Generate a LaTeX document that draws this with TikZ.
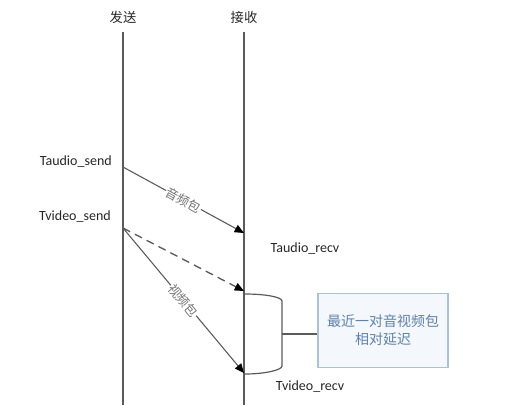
\documentclass[tikz,border=0pt]{standalone}
\usepackage{fontspec}
\setmainfont{Carlito}
\newfontfamily\cjk{Noto Sans CJK SC}
\usetikzlibrary{arrows.meta}
\definecolor{lineg}{HTML}{5A5A5A}
\definecolor{boxfill}{HTML}{F4F8FC}
\definecolor{boxdraw}{HTML}{A9C1DA}
\definecolor{boxtext}{HTML}{5F82A8}
\tikzset{
  lifeline/.style={draw=lineg, line width=0.9pt},
  msg/.style={draw=lineg, line width=0.8pt, -{Triangle[length=7pt,width=6pt,color=black]}},
  msglabel/.style={font=\cjk\fontsize{9.5}{10}\selectfont, text=black!55, fill=white, inner sep=0.5pt, sloped},
  tlabel/.style={font=\fontsize{10.5}{12}\selectfont, text=black!85, inner sep=0pt},
  header/.style={font=\cjk\fontsize{10}{11}\selectfont, text=black!85, inner sep=0pt},
  notebox/.style={draw=boxdraw, fill=boxfill, line width=0.8pt, minimum width=97.5pt, minimum height=56pt, align=center, text=boxtext, font=\cjk\fontsize{10.5}{13.5}\selectfont},
}
\begin{document}
\begin{tikzpicture}[x=0.75pt,y=-0.75pt]
\useasboundingbox (0,0) rectangle (511,405);
% headers
\node[header] (hs) at (123,17) {发送};
\node[header] (hr) at (244,17) {接收};
% lifelines
\coordinate (lt) at (123,32);
\coordinate (lb) at (123,405);
\coordinate (rt) at (244,32);
\coordinate (rb) at (244,405);
\draw[lifeline] (lt) -- (lb);
\draw[lifeline] (rt) -- (rb);
% event points
\coordinate (as) at (123,167);
\coordinate (ar) at (244,233);
\coordinate (vs) at (123,228);
\coordinate (vd) at (244,291);
\coordinate (vr) at (244,373);
% labels
\node[tlabel, anchor=east] (tas) at (112,162) {Taudio\_send};
\node[tlabel, anchor=east] (tvs) at (111,217) {Tvideo\_send};
\node[tlabel] (tar) at (305,249) {Taudio\_recv};
\node[tlabel] (tvr) at (310,387) {Tvideo\_recv};
% messages
\draw[msg] (as) -- node[msglabel] (la) {音频包} (ar);
\draw[msg, dashed, dash pattern=on 6pt off 4pt, line width=1pt] (vs) -- (vd);
\draw[msg] (vs) -- node[msglabel] (lv) {视频包} (vr);
% brace
\coordinate (b1) at (245,294);
\coordinate (b2) at (282,301);
\coordinate (b3) at (282,366);
\coordinate (b4) at (245,374);
\coordinate (bm) at (282,334);
\draw[draw=lineg, line width=0.9pt] (b1) .. controls (265,294) and (282,297) .. (b2) -- (b3) .. controls (282,370) and (265,374) .. (b4);
% note
\node[notebox] (note) at (383,330.5) {最近一对音视频包\\相对延迟};
\draw[draw=lineg, line width=0.9pt] (bm) -- (note.west |- bm);
\end{tikzpicture}
\end{document}
